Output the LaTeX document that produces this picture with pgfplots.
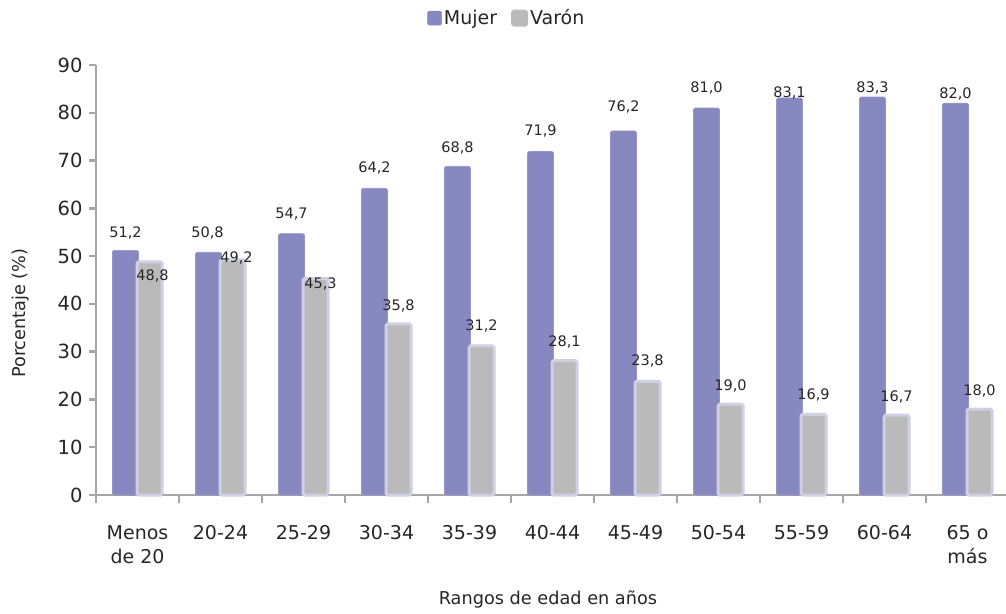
\documentclass[border=0pt]{standalone}
\usepackage{fontspec}
\setmainfont{DejaVu Sans}
\usepackage{pgfplots}
\usepackage{pgfplotstable}
\pgfplotsset{compat=1.18}
\definecolor{mujer}{HTML}{8688BF}
\definecolor{mujeredge}{HTML}{9496C8}
\definecolor{varon}{HTML}{BABABA}
\definecolor{varonedge}{HTML}{D0D0E4}
\definecolor{axisgray}{HTML}{A6A6A6}
\definecolor{txt}{HTML}{262626}

\pgfplotstableread{
x y lbl dx dy
0 51.2 51,2 0 17
1 50.8 50,8 -1 19
2 54.7 54,7 0 20
3 64.2 64,2 0 20
4 68.8 68,8 0 18
5 71.9 71,9 0 21
6 76.2 76,2 0 24
7 81.0 81,0 0 20
8 83.1 83,1 0 5
9 83.3 83,3 0 9
10 82.0 82,0 0 9
}\mujerdata

\pgfplotstableread{
x y lbl dx dy
0 48.8 48,8 3 -14
1 49.2 49,2 4 2
2 45.3 45,3 5 -5
3 35.8 35,8 0 18
4 31.2 31,2 0 20
5 28.1 28,1 0 19
6 23.8 23,8 0 20
7 19.0 19,0 0 18
8 16.9 16,9 0 19
9 16.7 16,7 0 18
10 18.0 18,0 0 18
}\varondata

\begin{document}
\begin{tikzpicture}
\useasboundingbox (-96pt,-118pt) rectangle (910pt,495pt);
\begin{axis}[
  at={(0,0)}, anchor=south west,
  scale only axis,
  width=913pt, height=430pt,
  xmin=-0.5, xmax=10.5,
  ymin=0, ymax=90,
  axis x line=bottom, axis y line=left,
  axis line style={-, draw=axisgray, line width=2.5pt},
  xtick={0,...,10},
  xticklabels={{Menos\\de 20},20-24,25-29,30-34,35-39,40-44,45-49,50-54,55-59,60-64,{65 o\\más}},
  minor xtick={-0.5,0.5,...,10.5},
  major x tick style={draw=none},
  minor x tick style={draw=axisgray, line width=2.5pt},
  minor tick length=8pt,
  ytick={0,10,...,90},
  y tick style={draw=axisgray, line width=2.5pt},
  major tick length=7pt,
  tick align=outside,
  /pgf/number format/assume math mode=true,
  yticklabel style={font=\fontsize{19.5}{22}\selectfont, text=txt, xshift=-3pt},
  xticklabel style={font=\fontsize{19}{24}\selectfont, text=txt, align=center, anchor=north, yshift=-20pt},
  xlabel={Rangos de edad en años},
  ylabel={Porcentaje (\%)},
  xlabel style={font=\fontsize{17.7}{20}\selectfont, text=txt, at={(axis description cs:0.495,-0.244)}, anchor=center},
  ylabel style={font=\fontsize{17.7}{20}\selectfont, text=txt, at={(axis description cs:-0.083,0.423)}, anchor=center},
  legend style={draw=none, at={(axis description cs:0.45,1.109)}, anchor=center,
    legend columns=2, font=\fontsize{19}{22}\selectfont, text=txt,
    /tikz/every even column/.append style={column sep=12pt}},
  clip=false,
]
\addplot[ybar, bar width=26pt, bar shift=-12pt, fill=mujer, draw=mujeredge, line width=0.6pt, rounded corners=1.5pt,
  nodes near coords, point meta=explicit symbolic,
  visualization depends on={\thisrow{dx} \as \dx},
  visualization depends on={\thisrow{dy} \as \dy},
  every node near coord/.append style={anchor=center, inner sep=0pt, xshift={(\dx-12)*1pt}, yshift=\dy pt, font=\fontsize{14.5}{16}\selectfont, text=txt},
  legend image code/.code={\fill[mujer] (0pt,-7pt) rectangle (14pt,7pt);}]
  table[x=x, y=y, meta=lbl] {\mujerdata};
\addlegendentry{Mujer}
\addplot[ybar, bar width=25pt, bar shift=12pt, fill=varon, draw=varonedge, line width=3pt, rounded corners=1.5pt,
  nodes near coords, point meta=explicit symbolic,
  visualization depends on={\thisrow{dx} \as \dx},
  visualization depends on={\thisrow{dy} \as \dy},
  every node near coord/.append style={anchor=center, inner sep=0pt, xshift={(\dx+12)*1pt}, yshift=\dy pt, font=\fontsize{14.5}{16}\selectfont, text=txt},
  legend image code/.code={\fill[varon] (0pt,-7pt) rectangle (14pt,7pt);}]
  table[x=x, y=y, meta=lbl] {\varondata};
\addlegendentry{Varón}
\end{axis}
\end{tikzpicture}
\end{document}
